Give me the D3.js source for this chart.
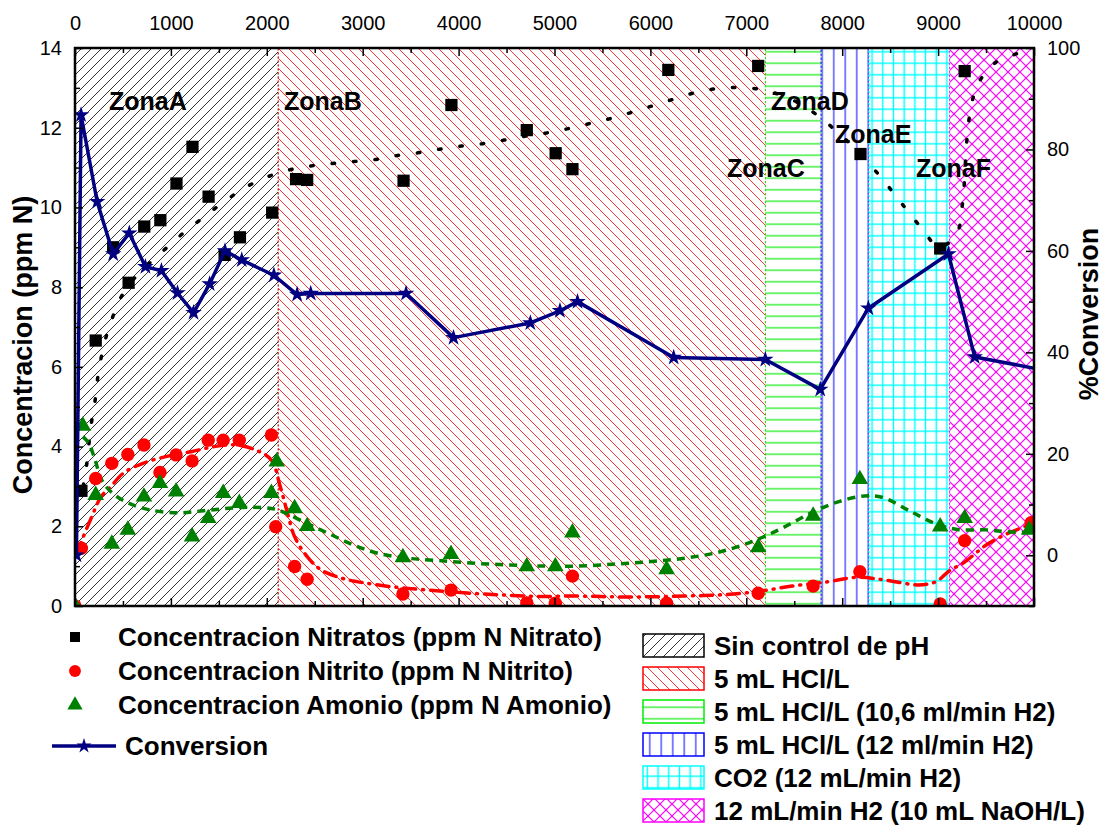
<!DOCTYPE html>
<html><head><meta charset="utf-8">
<script src="https://cdn.jsdelivr.net/npm/d3@7"></script>
<style>
body{margin:0;background:#fff;}
text{font-family:"Liberation Sans",Arial,Helvetica,sans-serif;}
</style></head>
<body><svg id="c" width="1104" height="827"></svg>
<script>
// ---------- DATA ----------
const tickX = [0,1000,2000,3000,4000,5000,6000,7000,8000,9000,10000];
const tickL = [0,2,4,6,8,10,12,14];
const tickR = [0,20,40,60,80,100];

const nitratoX = [67,216,398,559,722,890,1058,1225,1393,1560,1720,2056,2305,2421,3426,3925,4711,5012,5187,6187,7124,8191,9022,9277];
const nitratoY = [2.89,6.66,9.0,8.11,9.52,9.68,10.6,11.52,10.27,8.81,9.25,9.87,10.71,10.69,10.67,12.57,11.94,11.36,10.96,13.45,13.55,11.34,8.97,13.42];

const nitritoX = [0,67,216,384,551,719,886,1054,1221,1389,1545,1713,2048,2093,2290,2421,3419,3921,4711,5009,5187,6169,7124,7697,8184,9022,9277,9970];
const nitritoY = [0,1.45,3.2,3.58,3.8,4.04,3.35,3.79,3.64,4.16,4.16,4.16,4.29,1.99,0.99,0.67,0.30,0.40,0.08,0.07,0.75,0.07,0.32,0.50,0.86,0.05,1.64,2.09];

const amonioX = [0,82,216,384,551,719,886,1054,1221,1389,1545,1713,2048,2104,2290,2421,3419,3921,4711,5009,5187,6169,7124,7697,8184,9022,9277,9951];
const amonioY = [0,4.52,2.78,1.56,1.91,2.74,3.08,2.87,1.74,2.2,2.83,2.58,2.83,3.62,2.45,2.0,1.22,1.30,0.99,0.99,1.84,0.92,1.47,2.26,3.18,1.99,2.2,1.91];

const conversionX = [15,63,231,398,566,734,901,1069,1236,1404,1564,1739,2074,2316,2458,3452,3947,4748,5057,5240,6243,7198,7771,8273,9108,9382,10300];
const conversionY = [0,86.8,69.7,59.4,63.5,56.9,56.1,51.7,47.8,53.5,60.0,58.2,55.2,51.4,51.6,51.6,42.9,45.8,48.2,50.0,39.0,38.6,32.7,48.7,59.4,39.1,35.8];

const ajusteNitratoX = [85,119,168,205,231,268,317,391,492,659,883,1106,1329,1553,1776,2000,2234,2458,2681,2905,3128,3352,3575,3799,4029,4253,4476,4700,4923,5150,5375,5599,5824,6049,6273,6498,6723,6947,7172,7404,7610,7835,8060,8273,8460,8640,8827,9015,9202,9247,9269,9295,9314,9352,9427,9607,9839,10000];
const ajusteNitratoY = [3.0,3.5,4.54,5.07,5.63,6.17,6.69,7.24,7.8,8.33,8.83,9.31,9.73,10.14,10.5,10.76,10.94,11.04,11.1,11.15,11.2,11.3,11.37,11.46,11.54,11.6,11.69,11.79,11.87,11.98,12.11,12.24,12.4,12.57,12.74,12.9,12.99,13.01,12.95,12.78,12.53,12.13,11.65,11.12,10.59,10.04,9.48,9.0,9.39,9.96,10.46,11.54,12.04,12.63,13.15,13.65,13.87,14.0];

const ajusteNitritoX = [40,56,168,272,372,503,708,968,1210,1452,1676,1899,2048,2141,2216,2290,2421,2570,2793,3016,3352,3687,4059,4432,4804,5232,5607,5981,6356,6730,7105,7479,7854,8153,8453,8790,8977,9127,9258,9502,9727,10000];
const ajusteNitritoY = [1.3,1.53,2.2,2.74,2.99,3.33,3.58,3.76,3.87,4.0,4.04,3.9,3.66,2.99,2.33,1.74,1.24,0.9,0.69,0.58,0.47,0.4,0.33,0.28,0.24,0.25,0.23,0.23,0.25,0.28,0.36,0.5,0.61,0.72,0.65,0.53,0.61,0.9,1.07,1.53,1.82,2.08];

const ajusteAmonioX = [82,141,205,279,391,559,782,1080,1341,1601,1862,2085,2197,2421,2644,2905,3165,3463,3799,4171,4543,4916,5232,5607,5981,6356,6730,7105,7404,7704,7966,8228,8415,8715,8977,9202,9502,9727,10000];
const ajusteAmonioY = [4.25,4.09,3.7,3.16,2.83,2.58,2.41,2.34,2.39,2.45,2.48,2.43,2.33,2.07,1.82,1.53,1.32,1.2,1.14,1.07,1.03,1.0,1.0,1.05,1.11,1.2,1.36,1.66,1.99,2.37,2.62,2.76,2.73,2.37,2.06,1.92,1.91,1.86,1.84];

const zonaNombres = ["ZonaA","ZonaB","ZonaC","ZonaD","ZonaE","ZonaF"];
const zonaInicio = [0,2120,7200,7780,8280,9120];
const zonaFin = [2120,7200,7780,8280,9120,10000];
const zonaLeyenda = ["Sin control de pH","5 mL HCl/L","5 mL HCl/L (10,6 ml/min H2)","5 mL HCl/L (12 ml/min H2)","CO2 (12 mL/min H2)","12 mL/min H2 (10 mL NaOH/L)"];
const serieLeyenda = ["Concentracion Nitratos (ppm N Nitrato)","Concentracion Nitrito (ppm N Nitrito)","Concentracion Amonio (ppm N Amonio)","Conversion"];

// ---------- LAYOUT ----------
const L=75, R=1034, T=48, B=606;
const svg = d3.select("#c");
const x = d3.scaleLinear().domain([0,10000]).range([L,R]);
const yL = d3.scaleLinear().domain([0,14]).range([B,T]);
const yR = d3.scaleLinear().domain([-10,100]).range([B,T]);
const FONT = '"Liberation Sans",Arial,Helvetica,sans-serif';

const zoneColors = ["#000000","#ff0000","#00ee00","#0000ff","#00ffff","#ff00ff"];
const defs = svg.append("defs");
function pat(id,w,h,lines,color,sw){
  const p = defs.append("pattern").attr("id",id).attr("patternUnits","userSpaceOnUse").attr("width",w).attr("height",h);
  lines.forEach(l=>p.append("line").attr("x1",l[0]).attr("y1",l[1]).attr("x2",l[2]).attr("y2",l[3]).attr("stroke",color).attr("stroke-width",sw));
}
pat("pA",10,10,[[0,10,10,0],[-1,1,1,-1],[9,11,11,9]],"#000",0.8);
pat("pB",10,10,[[0,0,10,10],[-1,9,1,11],[9,-1,11,1]],"#ff0000",0.8);
pat("pC",12,11.5,[[0,5.75,12,5.75]],"#22ee22",1.3);
pat("pD",11.5,12,[[5.75,0,5.75,12]],"#0000ff",1);
pat("pE",10.7,11.5,[[5.35,0,5.35,11.5],[0,5.75,10.7,5.75]],"#00ffff",1.4);
pat("pF",12,12,[[0,0,12,12],[0,12,12,0]],"#ff00ff",1.2);
const patIds = ["pA","pB","pC","pD","pE","pF"];

defs.append("clipPath").attr("id","clip").append("rect").attr("x",L).attr("y",T).attr("width",R-L).attr("height",B-T);

// zones
const zg = svg.append("g");
zonaInicio.forEach((s,i)=>{
  zg.append("rect").attr("x",x(s)).attr("y",T).attr("width",x(zonaFin[i])-x(s)).attr("height",B-T)
    .attr("fill","#fff");
  zg.append("rect").attr("x",x(s)).attr("y",T).attr("width",x(zonaFin[i])-x(s)).attr("height",B-T)
    .attr("fill",`url(#${patIds[i]})`).attr("stroke",zoneColors[i]).attr("stroke-width",1).attr("stroke-dasharray","2,2");
});

// zone labels
const zonaLabelPos = [[109,110],[284,110],[727,177],[771,110],[835,143],[916,177]];
zonaNombres.forEach((n,i)=>{
  svg.append("text").attr("x",zonaLabelPos[i][0]).attr("y",zonaLabelPos[i][1]).attr("font-size",25)
    .attr("font-weight","bold").attr("fill","#000").text(n);
});

const plot = svg.append("g").attr("clip-path","url(#clip)");
const zip=(a,b)=>a.map((v,i)=>[v,b[i]]);

// fit curves
const lineL = d3.line().x(d=>x(d[0])).y(d=>yL(d[1])).curve(d3.curveCatmullRom);
plot.append("path").attr("d",lineL(zip(ajusteNitratoX,ajusteNitratoY))).attr("fill","none")
  .attr("stroke","#000").attr("stroke-width",3.5).attr("stroke-linecap","round").attr("stroke-dasharray","2.5,19");
plot.append("path").attr("d",lineL(zip(ajusteNitritoX,ajusteNitritoY))).attr("fill","none")
  .attr("stroke","#ff0000").attr("stroke-width",3.5).attr("stroke-linecap","round").attr("stroke-dasharray","12,7,1,7");
plot.append("path").attr("d",lineL(zip(ajusteAmonioX,ajusteAmonioY))).attr("fill","none")
  .attr("stroke","#008000").attr("stroke-width",3.5).attr("stroke-dasharray","8,6");

// markers
const sym = (type,size)=>d3.symbol().type(type).size(size)();
zip(nitratoX,nitratoY).forEach(d=>plot.append("path").attr("d",sym(d3.symbolSquare,150)).attr("transform",`translate(${x(d[0])},${yL(d[1])})`).attr("fill","#000"));
zip(nitritoX,nitritoY).forEach(d=>plot.append("path").attr("d",sym(d3.symbolCircle,140)).attr("transform",`translate(${x(d[0])},${yL(d[1])})`).attr("fill","#ff0000"));
zip(amonioX,amonioY).forEach(d=>plot.append("path").attr("d",sym(d3.symbolTriangle,120)).attr("transform",`translate(${x(d[0])},${yL(d[1])})`).attr("fill","#008000"));

// conversion
const lineR = d3.line().x(d=>x(d[0])).y(d=>yR(d[1]));
plot.append("path").attr("d",lineR(zip(conversionX,conversionY))).attr("fill","none")
  .attr("stroke","#000080").attr("stroke-width",3.5).attr("stroke-linejoin","round");
zip(conversionX,conversionY).forEach(d=>plot.append("path").attr("d",sym(d3.symbolStar,85)).attr("transform",`translate(${x(d[0])},${yR(d[1])})`).attr("fill","#000080"));

// axes
function styleAxis(g){
  g.select(".domain").remove();
  g.selectAll("line").attr("stroke","#000").attr("stroke-width",1.5);
  g.selectAll("text").attr("font-size",20).attr("font-family",FONT).attr("fill","#000");
}
svg.append("g").attr("transform",`translate(0,${T})`).call(d3.axisTop(x).tickValues(tickX).tickSize(-8).tickPadding(18).tickFormat(d3.format("d"))).call(styleAxis);
svg.append("g").attr("transform",`translate(0,${T})`).call(d3.axisTop(x).tickValues(d3.range(500,10000,1000)).tickSize(-5).tickFormat("")).call(styleAxis);
svg.append("g").attr("transform",`translate(0,${B})`).call(d3.axisBottom(x).tickValues(tickX).tickSize(-8).tickFormat("")).call(styleAxis);
svg.append("g").attr("transform",`translate(0,${B})`).call(d3.axisBottom(x).tickValues(d3.range(500,10000,1000)).tickSize(-5).tickFormat("")).call(styleAxis);
svg.append("g").attr("transform",`translate(${L},0)`).call(d3.axisLeft(yL).tickValues(tickL).tickSize(-8).tickPadding(13).tickFormat(d3.format("d"))).call(styleAxis);
svg.append("g").attr("transform",`translate(${L},0)`).call(d3.axisLeft(yL).tickValues(d3.range(1,14,2)).tickSize(-5).tickFormat("")).call(styleAxis);
svg.append("g").attr("transform",`translate(${R},0)`).call(d3.axisRight(yR).tickValues(tickR).tickSize(-8).tickPadding(13).tickFormat(d3.format("d"))).call(styleAxis);
svg.append("g").attr("transform",`translate(${R},0)`).call(d3.axisRight(yR).tickValues(d3.range(-10,100,20)).tickSize(-5).tickFormat("")).call(styleAxis);

svg.append("rect").attr("x",L).attr("y",T).attr("width",R-L).attr("height",B-T).attr("fill","none").attr("stroke","#000").attr("stroke-width",2.5);

// axis titles
svg.append("text").attr("transform",`translate(32,345) rotate(-90)`).attr("text-anchor","middle")
  .attr("font-size",27).attr("font-weight","bold").text("Concentracion (ppm N)");
svg.append("text").attr("transform",`translate(1098,314) rotate(-90)`).attr("text-anchor","middle")
  .attr("font-size",27).attr("font-weight","bold").text("%Conversion");

// series legend
const lg = svg.append("g");
const legY = [637,671,705,746];
lg.append("path").attr("d",sym(d3.symbolSquare,100)).attr("transform",`translate(75,${legY[0]})`).attr("fill","#000");
lg.append("path").attr("d",sym(d3.symbolCircle,110)).attr("transform",`translate(75,${legY[1]})`).attr("fill","#ff0000");
lg.append("path").attr("d",sym(d3.symbolTriangle,100)).attr("transform",`translate(75,${legY[2]})`).attr("fill","#008000");
lg.append("line").attr("x1",52).attr("x2",116).attr("y1",legY[3]).attr("y2",legY[3]).attr("stroke","#000080").attr("stroke-width",3.5);
lg.append("path").attr("d",sym(d3.symbolStar,70)).attr("transform",`translate(84,${legY[3]})`).attr("fill","#000080");
serieLeyenda.forEach((t,i)=>{
  lg.append("text").attr("x",i<3?118:125).attr("y",legY[i]).attr("dy","0.36em").attr("font-size",26).attr("font-weight","bold").text(t);
});

// zone legend
const zl = svg.append("g");
zonaLeyenda.forEach((t,i)=>{
  const yt = 634 + i*33;
  zl.append("rect").attr("x",643).attr("y",yt).attr("width",61).attr("height",23).attr("fill","#fff");
  zl.append("rect").attr("x",643).attr("y",yt).attr("width",61).attr("height",23).attr("fill",`url(#${patIds[i]})`)
    .attr("stroke",zoneColors[i]).attr("stroke-width",1.5);
  zl.append("text").attr("x",714).attr("y",yt+11.5).attr("dy","0.36em").attr("font-size",26).attr("font-weight","bold").text(t);
});
</script></body></html>
